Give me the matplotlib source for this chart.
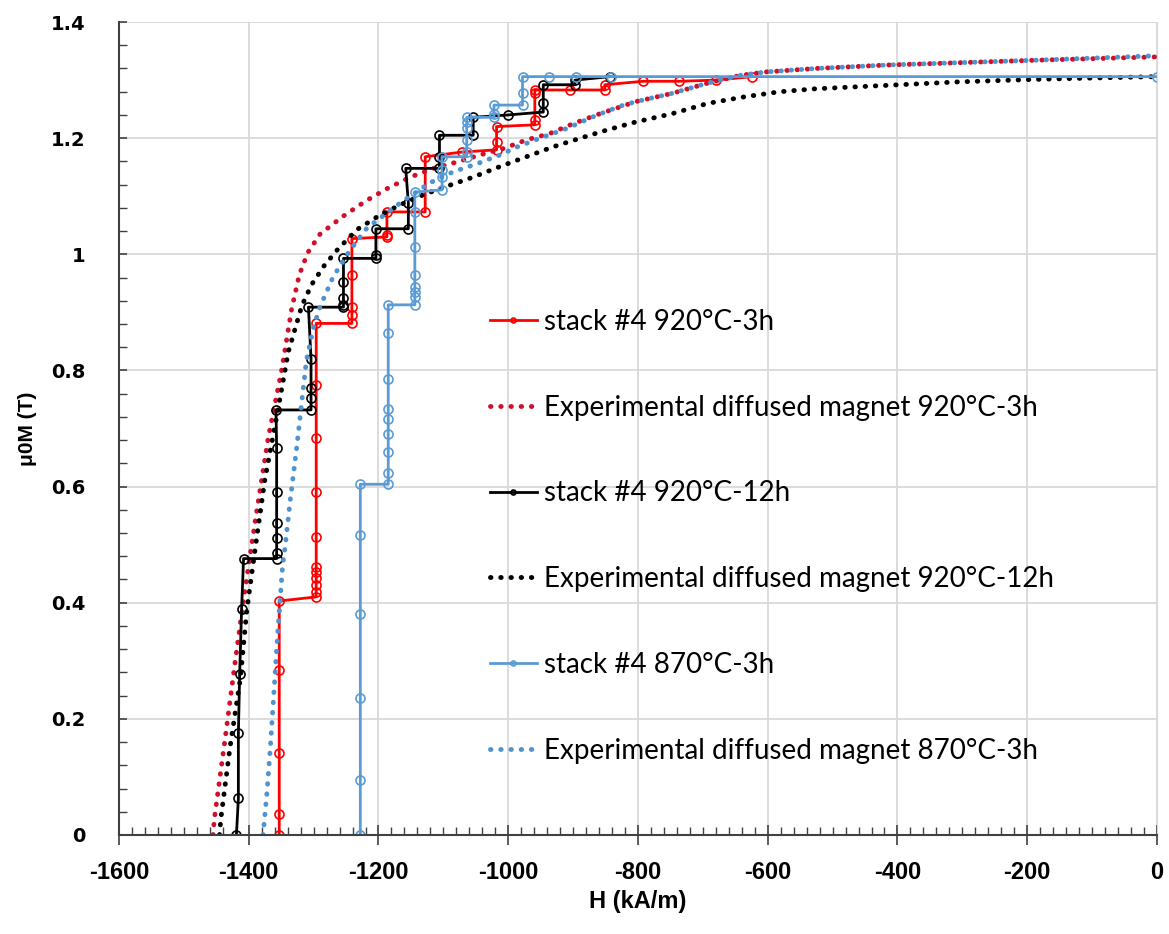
import numpy as np
import matplotlib
matplotlib.use("Agg")
import matplotlib.pyplot as plt
from matplotlib.ticker import MultipleLocator

plt.rcParams["axes.unicode_minus"] = False

# ---- stack #4 920°C-3h (measured steps)
red_H = [-1353, -1353, -1353, -1353, -1353,
         -1296, -1296, -1296, -1296, -1296, -1296, -1296, -1296, -1296, -1296, -1296,
         -1241, -1241, -1241, -1241, -1241,
         -1187, -1187, -1187,
         -1128, -1128, -1072,
         -1018, -1018, -1018,
         -959, -959, -959, -959,
         -905, -851, -851, -792, -737, -679, -624]
red_M = [0.0, 0.037, 0.141, 0.284, 0.403,
         0.41, 0.419, 0.43, 0.442, 0.453, 0.462, 0.513, 0.591, 0.683, 0.775, 0.881,
         0.881, 0.895, 0.91, 0.964, 1.027,
         1.03, 1.033, 1.073,
         1.073, 1.168, 1.176,
         1.18, 1.194, 1.22,
         1.223, 1.231, 1.277, 1.283,
         1.283, 1.283, 1.292, 1.298, 1.298, 1.300, 1.306]

# ---- stack #4 920°C-12h
blk_H = [-1419, -1416, -1416, -1414, -1411, -1408,
         -1357, -1357, -1357, -1357, -1357, -1357, -1358,
         -1304, -1304, -1304, -1304, -1308,
         -1254, -1254, -1254, -1254, -1254,
         -1204, -1204, -1204,
         -1154, -1154, -1158,
         -1106, -1106, -1106,
         -1054, -1054, -1000,
         -946, -946, -946, -897, -897, -843]
blk_M = [0.0, 0.063, 0.175, 0.277, 0.39, 0.476,
         0.476, 0.485, 0.511, 0.538, 0.59, 0.666, 0.732,
         0.732, 0.752, 0.77, 0.82, 0.909,
         0.909, 0.913, 0.924, 0.953, 0.993,
         0.993, 0.999, 1.044,
         1.044, 1.088, 1.148,
         1.148, 1.168, 1.205,
         1.205, 1.236, 1.24,
         1.245, 1.26, 1.292, 1.292, 1.30, 1.306]

# ---- stack #4 870°C-3h
blu_H = [-1228, -1228, -1228, -1228, -1228, -1228,
         -1185, -1185, -1185, -1185, -1185, -1185, -1185, -1185, -1185,
         -1144, -1144, -1144, -1144, -1144, -1144, -1144, -1144,
         -1102, -1102, -1102, -1102,
         -1064, -1064, -1064, -1064, -1064, -1064,
         -1022, -1022, -1022,
         -978, -978, -978,
         -937, -896, -842, 0]
blu_M = [0.0, 0.095, 0.236, 0.38, 0.517, 0.604,
         0.604, 0.623, 0.66, 0.69, 0.716, 0.733, 0.785, 0.864, 0.913,
         0.913, 0.927, 0.935, 0.944, 0.964, 1.013, 1.073, 1.107,
         1.111, 1.133, 1.145, 1.168,
         1.168, 1.177, 1.197, 1.217, 1.228, 1.236,
         1.236, 1.242, 1.257,
         1.257, 1.277, 1.306,
         1.306, 1.306, 1.306, 1.306]

# ---- experimental diffused magnet curves
red_fit_H = [-1455, -1453, -1437, -1421, -1408, -1390, -1370, -1349, -1334, -1322,
             -1309, -1290, -1254, -1218, -1187, -1151, -1115, -1079, -1044, -1008, -972,
             -936, -900, -859, -803, -748, -692, -643, -604, -527, -416, -305, -194, 0]
red_fit_M = [0.0, 0.028, 0.161, 0.298, 0.405, 0.541, 0.684, 0.802, 0.905, 0.965,
             1.003, 1.035, 1.066, 1.093, 1.113, 1.133, 1.148, 1.159, 1.171, 1.182, 1.197,
             1.208, 1.225, 1.242, 1.263, 1.277, 1.295, 1.308, 1.314, 1.320, 1.326, 1.330, 1.334, 1.340]

blk_fit_H = [-1445, -1443, -1429, -1413, -1403, -1390, -1375, -1357, -1339, -1318,
             -1303, -1284, -1264, -1234, -1200, -1167, -1130, -1090, -1054, -1013, -972,
             -931, -889, -848, -803, -748, -692, -637, -581, -527, -416, -305, -194, -83, 0]
blk_fit_M = [0.0, 0.028, 0.15, 0.269, 0.387, 0.494, 0.613, 0.72, 0.832, 0.912,
             0.948, 0.98, 1.007, 1.042, 1.066, 1.085, 1.103, 1.119, 1.133, 1.151, 1.168,
             1.185, 1.2, 1.214, 1.228, 1.242, 1.26, 1.271, 1.28, 1.285, 1.291, 1.297,
             1.301, 1.304, 1.306]

blu_fit_H = [-1378, -1372, -1367, -1362, -1357, -1352, -1348, -1344, -1336, -1326,
             -1318, -1311, -1300, -1290, -1270, -1244, -1218, -1167, -1121, -1085,
             -1048, -1013, -986, -951, -909, -869, -828, -803, -748, -692, -643,
             -604, -527, -416, -305, -194, 0]
blu_fit_M = [0.0, 0.072, 0.146, 0.232, 0.319, 0.399, 0.462, 0.496, 0.577, 0.668,
             0.749, 0.818, 0.875, 0.91, 0.961, 1.007, 1.045, 1.088, 1.123, 1.142,
             1.156, 1.171, 1.185, 1.2, 1.217, 1.237, 1.255, 1.263, 1.277, 1.295, 1.308,
             1.314, 1.320, 1.326, 1.330, 1.334, 1.342]

labels = ["stack #4 920°C-3h",
          "Experimental diffused magnet 920°C-3h",
          "stack #4 920°C-12h",
          "Experimental diffused magnet 920°C-12h",
          "stack #4 870°C-3h",
          "Experimental diffused magnet 870°C-3h"]

red = "#FF0000"
red_dot = "#D0102A"
blue = "#5B9BD5"
blue_dot = "#4F93CF"

fig = plt.figure(figsize=(11.69, 9.34), dpi=100)
ax = fig.add_axes([0.1018, 0.106, 0.8879, 0.8704])

dot = (0, (0.1, 2.0))
mk = dict(marker="o", mfc="none", ms=6.5, mew=1.2)

ax.plot(red_H, red_M, color=red, lw=2, label=labels[0], **mk)
ax.plot(red_fit_H, red_fit_M, color=red_dot, lw=3.5, ls=dot,
        dash_capstyle="round", label=labels[1])
ax.plot(blk_H, blk_M, color="black", lw=2, label=labels[2], **mk)
ax.plot(blk_fit_H, blk_fit_M, color="black", lw=3.5, ls=dot,
        dash_capstyle="round", label=labels[3])
ax.plot(blu_H, blu_M, color=blue, lw=2, label=labels[4], **mk)
ax.plot(blu_fit_H, blu_fit_M, color=blue_dot, lw=3.5, ls=dot,
        dash_capstyle="round", label=labels[5])

ax.set_xlim(-1600, 0)
ax.set_ylim(0, 1.4)
ax.xaxis.set_major_locator(MultipleLocator(200))
ax.xaxis.set_minor_locator(MultipleLocator(20))
ax.yaxis.set_minor_locator(MultipleLocator(0.04))
ax.set_yticks(np.arange(0, 1.41, 0.2))
ax.set_yticklabels(["0", "0.2", "0.4", "0.6", "0.8", "1", "1.2", "1.4"])

ax.grid(True, which="major", color="#D9D9D9", lw=1.3)
ax.set_axisbelow(True)
ax.spines["top"].set_visible(False)
ax.spines["right"].set_color("#D9D9D9")
for s in ("left", "bottom"):
    ax.spines[s].set_color("#404040")
    ax.spines[s].set_linewidth(1.5)

ax.tick_params(axis="x", which="major", direction="inout", length=14, width=1.2,
               color="#404040", pad=12)
ax.tick_params(axis="x", which="minor", direction="in", length=6, width=1,
               color="#404040")
ax.tick_params(axis="y", which="major", direction="in", length=6, width=1.2,
               color="#404040", pad=24)
ax.tick_params(axis="y", which="minor", direction="in", length=6, width=1,
               color="#404040")

narrow = ["Liberation Sans Narrow", "Liberation Sans", "DejaVu Sans"]
for t in ax.get_xticklabels():
    t.set_family(narrow)
    t.set_fontweight("bold")
    t.set_fontsize(17)
for t in ax.get_yticklabels():
    t.set_family("DejaVu Sans")
    t.set_fontweight("bold")
    t.set_fontsize(14)

ax.set_xlabel("H (kA/m)", family=narrow, fontsize=17, fontweight="bold", labelpad=4)
ax.set_ylabel("μ0M (T)", family=narrow, fontsize=15, fontweight="bold", labelpad=10)

leg = ax.legend(loc="upper left", bbox_to_anchor=(0.357, 0.647), frameon=False,
                prop={"family": ["Lato", "DejaVu Sans"], "size": 20},
                handlelength=1.7, handletextpad=0.25, labelspacing=2.15,
                markerscale=0.55, borderaxespad=0, borderpad=0)

fig.savefig("out.png", dpi=100)
